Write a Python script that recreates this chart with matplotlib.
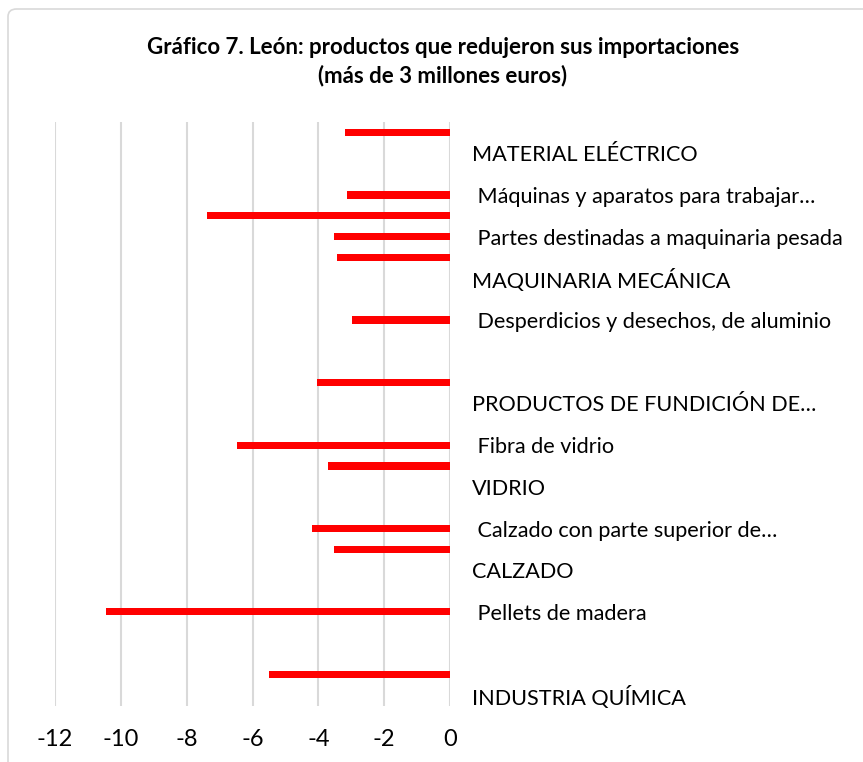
import numpy as np
import matplotlib.pyplot as plt
from matplotlib.patches import FancyBboxPatch

# Categorías (sólo se ven las etiquetas impares, como en el gráfico de Excel)
categorias = [
    '', 'MATERIAL ELÉCTRICO', '', ' Máquinas y aparatos para trabajar…',
    '', ' Partes destinadas a maquinaria pesada', '', 'MAQUINARIA MECÁNICA',
    '', ' Desperdicios y desechos, de aluminio', '', '',
    '', 'PRODUCTOS DE FUNDICIÓN DE…', '', ' Fibra de vidrio',
    '', 'VIDRIO', '', ' Calzado con parte superior de…',
    '', 'CALZADO', '', ' Pellets de madera',
    '', '', '', 'INDUSTRIA QUÍMICA',
]

# Variación de importaciones (millones de euros)
valores = [
    -3.20, np.nan, np.nan, -3.14,
    -7.37, -3.53, -3.43, np.nan,
    np.nan, -2.99, np.nan, np.nan,
    -4.05, np.nan, np.nan, -6.47,
    -3.72, np.nan, np.nan, -4.20,
    -3.51, np.nan, np.nan, -10.44,
    np.nan, np.nan, -5.51, np.nan,
]

ticks_x = [-12, -10, -8, -6, -4, -2, 0]

plt.rcParams['font.family'] = ['Lato', 'DejaVu Sans']

fig = plt.figure(figsize=(8.63, 7.62), dpi=100)

# Marco del gráfico
marco = FancyBboxPatch((8 / 863, -0.05), 1.2, (762 - 9) / 762 + 0.05,
                       boxstyle='round,pad=0,rounding_size=0.01',
                       transform=fig.transFigure, facecolor='white',
                       edgecolor='#D9D9D9', linewidth=1.2, zorder=-1)
fig.patches.append(marco)

ax = fig.add_axes([55 / 863, 56.3 / 762, 395 / 863, 583.7 / 762])
ax.set_facecolor('none')

y = np.arange(len(categorias))
ax.barh(y, valores, height=0.34, color='#FF0000', zorder=3)

ax.set_xlim(-12, 0)
ax.set_ylim(len(categorias) - 0.5, -0.5)
ax.set_xticks(ticks_x)
ax.set_xticklabels([str(t) for t in ticks_x], fontsize=17)
ax.grid(axis='x', color='#D9D9D9', linewidth=1.5, zorder=0)

ax.yaxis.tick_right()
ax.set_yticks(y)
ax.set_yticklabels(categorias, fontsize=15.6)
ax.tick_params(axis='y', length=0, pad=16)
ax.tick_params(axis='x', length=0, pad=17)

for lado in ['top', 'left', 'bottom', 'right']:
    ax.spines[lado].set_visible(False)

fig.text(443 / 863, 1 - 47 / 762,
         'Gráfico 7. León: productos que redujeron sus importaciones',
         ha='center', va='center', fontsize=16, fontweight='bold')
fig.text(443 / 863, 1 - 76 / 762, '(más de 3 millones euros)',
         ha='center', va='center', fontsize=16, fontweight='bold')

fig.savefig('out.png', dpi=100)
